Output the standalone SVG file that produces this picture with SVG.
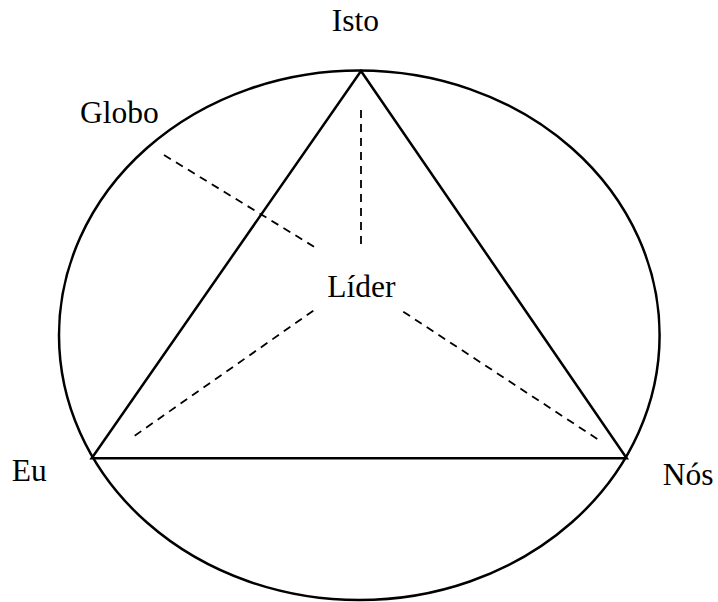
<svg xmlns="http://www.w3.org/2000/svg" width="718" height="602" viewBox="0 0 718 602">
<style>
.lbl{font-family:"Liberation Serif","Times New Roman",serif;font-size:31.5px;fill:#000}
.solid{fill:none;stroke:#000;stroke-width:2.5}
.dash{fill:none;stroke:#000;stroke-width:1.8;stroke-dasharray:8 6}
</style>
<rect width="718" height="602" fill="#fff"/>
<g id="globo">
<ellipse class="solid" cx="359.3" cy="335.3" rx="300.3" ry="264.8"/>
<text class="lbl" x="80" y="123.3">Globo</text>
</g>
<g id="triangulo">
<polygon class="solid" points="361,71 91.7,458.3 626.7,458.3" stroke-linejoin="miter"/>
</g>
<g id="connectors">
<line class="dash" x1="361" y1="110" x2="361" y2="245"/>
<line class="dash" x1="164" y1="155" x2="314" y2="246.7"/>
<line class="dash" x1="313.3" y1="310.7" x2="130" y2="439"/>
<line class="dash" x1="403.3" y1="311.7" x2="597.3" y2="439"/>
</g>
<g id="isto"><text class="lbl" x="331.7" y="30.7">Isto</text></g>
<g id="lider"><text class="lbl" x="327.3" y="296.7">Líder</text></g>
<g id="eu"><text class="lbl" x="11.7" y="481">Eu</text></g>
<g id="nos"><text class="lbl" x="662.7" y="485">Nós</text></g>
</svg>
